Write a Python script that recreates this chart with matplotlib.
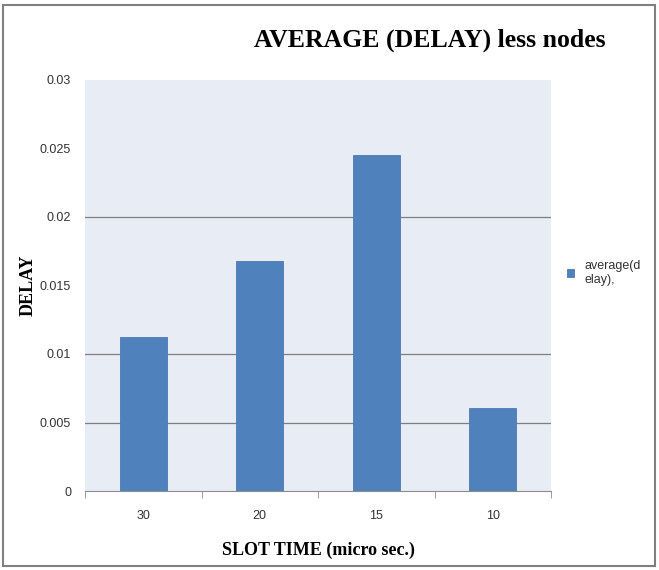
import matplotlib.pyplot as plt
from matplotlib.patches import Rectangle

# data
slot_times = ["30", "20", "15", "10"]
avg_delay = [0.01125, 0.0168, 0.02455, 0.00605]
y_ticks = [0, 0.005, 0.01, 0.015, 0.02, 0.025, 0.03]
y_ticklabels = ["0", "0.005", "0.01", "0.015", "0.02", "0.025", "0.03"]
grid_at = [0.005, 0.01, 0.02]

W, H = 659, 570
fig = plt.figure(figsize=(W / 100, H / 100), dpi=100)
ax = fig.add_axes([85 / W, 1 - 491 / H, 466 / W, 411 / H])
ax.set_facecolor("#e8ecf4")

x = list(range(len(slot_times)))
ax.bar(x, avg_delay, width=0.4, color="#4f81bd", edgecolor="#4a7ab3",
       linewidth=0.6, zorder=3, label="average(d\nelay),")

for g in grid_at:
    ax.axhline(g, color="#7f7f7f", linewidth=0.9, zorder=1)

ax.set_xlim(-0.5, len(slot_times) - 0.5)
ax.set_ylim(0, 0.03)
ax.set_yticks(y_ticks)
ax.set_yticklabels(y_ticklabels)
ax.set_xticks(x)
ax.set_xticklabels(slot_times)
ax.set_xticks([i - 0.5 for i in range(len(slot_times) + 1)], minor=True)
ax.tick_params(axis="x", which="major", length=0, pad=14)
ax.tick_params(axis="x", which="minor", length=5, color="#8c8c8c", direction="out")
ax.tick_params(axis="y", length=0, pad=10)
for lab in ax.get_xticklabels() + ax.get_yticklabels():
    lab.set_fontsize(9)
    lab.set_color("#333333")
    lab.set_fontfamily("Liberation Sans")

for s in ["top", "right", "left"]:
    ax.spines[s].set_visible(False)
ax.spines["bottom"].set_color("#8c8c8c")

ax.set_xlabel("SLOT TIME (micro sec.)", fontfamily="Liberation Serif",
              fontweight="bold", fontsize=13, labelpad=14)
ax.set_ylabel("DELAY", fontfamily="Liberation Serif", fontweight="bold",
              fontsize=13, labelpad=2)

fig.text(430 / W, 1 - 40 / H, "AVERAGE (DELAY) less nodes",
         fontfamily="Liberation Serif", fontweight="bold", fontsize=18.5,
         ha="center", va="center")

leg = ax.legend(loc="upper left", bbox_to_anchor=(1.01, 0.59), frameon=False,
                prop={"family": "Liberation Sans", "size": 9},
                handlelength=0.6, handleheight=0.6, handletextpad=0.8)
for t in leg.get_texts():
    t.set_color("#333333")

# outer frame
fig.patches.append(Rectangle((3 / W, 4 / H), 652 / W, 561 / H,
                             transform=fig.transFigure, fill=False,
                             edgecolor="#7f7f7f", linewidth=1.5))

fig.savefig("out.png", dpi=100)
